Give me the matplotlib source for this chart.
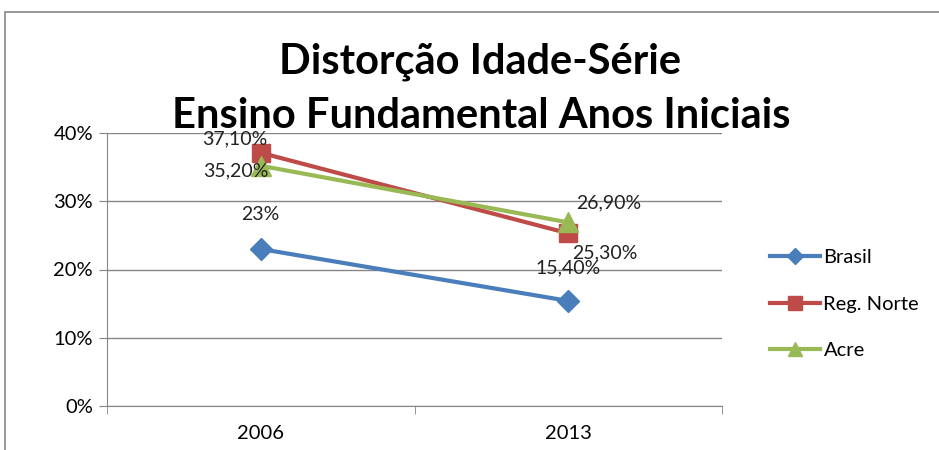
import matplotlib
matplotlib.use("Agg")
import matplotlib.pyplot as plt
from matplotlib.patches import Rectangle

# ==========================
# DADOS
# ==========================

anos = ["2006", "2013"]
brasil = [23.0, 15.4]
reg_norte = [37.1, 25.3]
acre = [35.2, 26.9]

rotulos_brasil = ["23%", "15,40%"]
rotulos_norte = ["37,10%", "25,30%"]
rotulos_acre = ["35,20%", "26,90%"]

y_ticks = [0, 10, 20, 30, 40]
y_labels = ["0%", "10%", "20%", "30%", "40%"]

# ==========================
# ESTILO
# ==========================

plt.rcParams["font.family"] = ["Lato", "DejaVu Sans"]

azul = "#4A7EBB"
vermelho = "#BE4B48"
verde = "#98B954"
cinza = "#868686"

W, H = 939, 450
fig = plt.figure(figsize=(W / 100, H / 100), dpi=100)

# borda da area do grafico
fig.patches.append(Rectangle((5 / W, -0.1), 1.1, (H - 12) / H + 0.1,
                             transform=fig.transFigure, fill=False,
                             edgecolor=cinza, linewidth=1.2))

ax = fig.add_axes([107 / W, (H - 406) / H, (722 - 107) / W, (406 - 133) / H])

x = [0, 1]

ax.plot(x, brasil, color=azul, lw=3, marker="D", ms=11, label="Brasil")
ax.plot(x, reg_norte, color=vermelho, lw=3, marker="s", ms=13, label="Reg. Norte")
ax.plot(x, acre, color=verde, lw=3, marker="^", ms=14, label="Acre")

ax.set_xlim(-0.5, 1.5)
ax.set_ylim(0, 40)

ax.set_yticks(y_ticks)
ax.set_yticklabels(y_labels, fontsize=14.5)
ax.set_xticks(x)
ax.set_xticklabels(anos, fontsize=14.5)
ax.set_xticks([-0.5, 0.5, 1.5], minor=True)
ax.tick_params(axis="x", which="major", length=0, pad=14)
ax.tick_params(axis="x", which="minor", length=6, color=cinza)
ax.tick_params(axis="y", length=6, color=cinza, pad=4)

ax.grid(axis="y", color=cinza, lw=1)
ax.set_axisbelow(True)
for lado in ["top", "right"]:
    ax.spines[lado].set_visible(False)
ax.spines["left"].set_color(cinza)
ax.spines["bottom"].set_color(cinza)
ax.patch.set_alpha(0)

# ==========================
# ROTULOS DE DADOS
# ==========================

fs = 14
def rotulo(txt, xv, yv, dx, dy):
    ax.annotate(txt, (xv, yv), xytext=(dx, dy), textcoords="offset points",
                ha="center", va="center", fontsize=fs, color="#222222")

rotulo(rotulos_norte[0], x[0], reg_norte[0], -19, 10)
rotulo(rotulos_acre[0], x[0], acre[0], -18, -4)
rotulo(rotulos_brasil[0], x[0], brasil[0], 0, 25)
rotulo(rotulos_acre[1], x[1], acre[1], 29, 14)
rotulo(rotulos_norte[1], x[1], reg_norte[1], 26, -14)
rotulo(rotulos_brasil[1], x[1], brasil[1], 0, 24)

# ==========================
# TITULO E LEGENDA
# ==========================

fig.text(480 / W, 1 - 62 / H, "Distorção Idade-Série", ha="center", va="center",
         fontsize=30, fontweight="bold")
fig.text(481 / W, 1 - 116 / H, "Ensino Fundamental Anos Iniciais", ha="center",
         va="center", fontsize=30, fontweight="bold")

fig.legend(loc="center left", bbox_to_anchor=(752 / W, 1 - 304 / H), frameon=False,
           fontsize=14.5, handlelength=2.5, handletextpad=0.15, labelspacing=1.45,
           markerscale=0.75)

fig.savefig("out.png", dpi=100)
